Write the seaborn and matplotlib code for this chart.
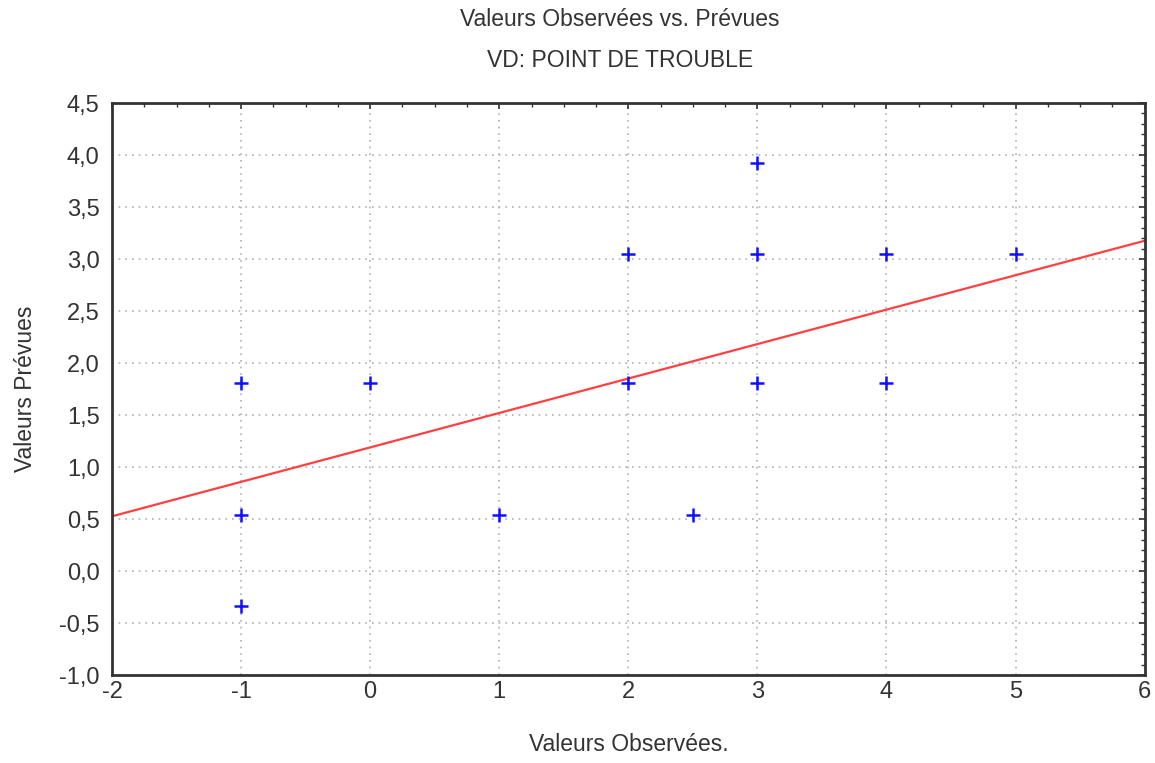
import numpy as np
import matplotlib
matplotlib.use('Agg')
import matplotlib.pyplot as plt
from matplotlib.ticker import MultipleLocator, FuncFormatter
import seaborn as sns

# Observed vs predicted values
observed = [3, 2, 3, 4, 5, -1, 0, 2, 3, 4, -1, 1, 2.5, -1]
predicted = [3.92, 3.05, 3.05, 3.05, 3.05, 1.81, 1.81, 1.81, 1.81, 1.81,
             0.54, 0.54, 0.54, -0.33]

# Fitted line (as shown on the chart)
fit_intercept = 1.19
fit_slope = 0.331

x_limits = [-2, 6]
y_limits = [-1, 4.5]

sns.set_style('white')
plt.rcParams['font.family'] = ['Liberation Sans', 'DejaVu Sans']

fig = plt.figure(figsize=(11.55, 7.63), dpi=100)
ax = fig.add_axes([0.097, 0.115, 0.894, 0.75])

# Regression line across the full x range
x_fit = np.array(x_limits, dtype=float)
y_fit = fit_intercept + fit_slope * x_fit
sns.lineplot(x=x_fit, y=y_fit, color='#ff4040', linewidth=1.6, ax=ax, zorder=2)

sns.scatterplot(x=observed, y=predicted, marker='+', s=115, color='#1010ff',
                linewidth=1.8, ax=ax, zorder=3)

ax.set_xlim(x_limits)
ax.set_ylim(y_limits)

ax.xaxis.set_major_locator(MultipleLocator(1))
ax.xaxis.set_minor_locator(MultipleLocator(0.25))
ax.yaxis.set_major_locator(MultipleLocator(0.5))
ax.yaxis.set_minor_locator(MultipleLocator(0.1))
ax.yaxis.set_major_formatter(FuncFormatter(lambda v, p: f'{v:.1f}'.replace('.', ',')))
ax.xaxis.set_major_formatter(FuncFormatter(lambda v, p: f'{v:.0f}'))

ax.grid(True, which='major', linestyle=(0, (1, 3)), color='#b0b0b0', linewidth=1.2)
ax.set_axisbelow(True)

ax.tick_params(which='both', direction='in', top=True, right=True, colors='#333333',
               labelcolor='#333333')
ax.tick_params(which='major', length=4, width=1.2, labelsize=17)
ax.tick_params(axis='y', which='major', pad=9)
ax.tick_params(axis='x', which='major', pad=4)
ax.tick_params(which='minor', length=3, width=1)

for sp in ax.spines.values():
    sp.set_color('#333333')
    sp.set_linewidth(2)

ax.set_xlabel('Valeurs Observées.', fontsize=16.5, color='#333333', labelpad=22)
ax.set_ylabel('Valeurs Prévues', fontsize=16.5, color='#333333', labelpad=16)

fig.text(0.537, 0.974, 'Valeurs Observées vs. Prévues', ha='center', va='center',
         fontsize=16.5, color='#333333')
fig.text(0.537, 0.921, 'VD: POINT DE TROUBLE', ha='center', va='center',
         fontsize=16.5, color='#333333')

fig.savefig('out.png', dpi=100)
